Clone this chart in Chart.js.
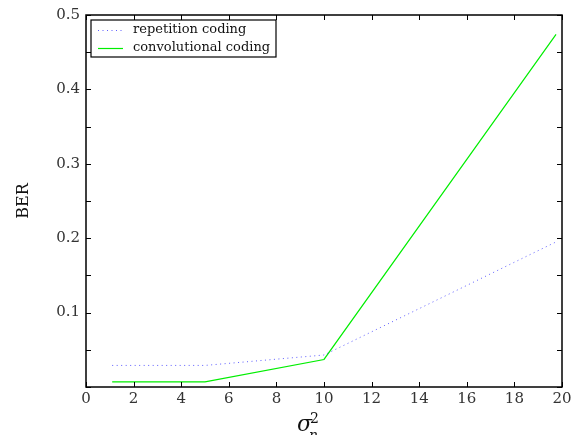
<!DOCTYPE html>
<html>
<head>
<meta charset="utf-8">
<script src="https://cdn.jsdelivr.net/npm/chart.js@4"></script>
<style>
  html, body { margin: 0; padding: 0; background: #fff; }
  #wrap { width: 575px; height: 435px; }
</style>
</head>
<body>
<div id="wrap"><canvas id="berChart" width="575" height="435"></canvas></div>
<script>
const sigma2 = [1.1, 5, 10, 19.75];
const repetitionBER = [0.029, 0.029, 0.043, 0.195];
const convolutionalBER = [0.007, 0.007, 0.037, 0.474];
const seriesLabels = ['repetition coding', 'convolutional coding'];
const seriesColors = ['rgba(40,40,255,0.75)', '#00ee00'];

const serif = '"DejaVu Serif", "Liberation Serif", serif';

function points(ys) {
    return sigma2.map((x, i) => ({ x: x, y: ys[i] }));
}

// box round the plot and MATLAB-style inward ticks
const frame = {
    id: 'frame',
    afterDatasetsDraw(chart) {
        const ctx = chart.ctx, a = chart.chartArea;
        const xs = chart.scales.x, ys = chart.scales.y;
        ctx.save();
        ctx.strokeStyle = '#000';
        ctx.lineWidth = 1;
        ctx.beginPath();
        xs.ticks.forEach(t => {
            const px = Math.round(xs.getPixelForValue(t.value)) + 0.5;
            ctx.moveTo(px, a.bottom); ctx.lineTo(px, a.bottom - 5);
            ctx.moveTo(px, a.top); ctx.lineTo(px, a.top + 5);
        });
        ys.ticks.forEach(t => {
            const py = Math.round(ys.getPixelForValue(t.value)) + 0.5;
            ctx.moveTo(a.left, py); ctx.lineTo(a.left + 5, py);
            ctx.moveTo(a.right, py); ctx.lineTo(a.right - 5, py);
        });
        ctx.stroke();
        ctx.lineWidth = 1.5;
        ctx.strokeRect(a.left, a.top, a.right - a.left, a.bottom - a.top);
        ctx.restore();
    }
};

// legend box in the top-left corner of the plot
const boxLegend = {
    id: 'boxLegend',
    afterDraw(chart) {
        const ctx = chart.ctx, a = chart.chartArea;
        const x0 = a.left + 5, y0 = a.top + 5, w = 185, h = 37;
        ctx.save();
        ctx.fillStyle = '#fff';
        ctx.fillRect(x0, y0, w, h);
        ctx.strokeStyle = '#000';
        ctx.lineWidth = 1.2;
        ctx.strokeRect(x0, y0, w, h);
        ctx.font = '13px ' + serif;
        ctx.textBaseline = 'middle';
        chart.data.datasets.forEach((ds, i) => {
            const y = Math.round(y0 + 10 + i * 18);
            ctx.strokeStyle = seriesColors[i];
            ctx.lineWidth = 1.2;
            ctx.setLineDash(ds.borderDash || []);
            ctx.beginPath();
            ctx.moveTo(x0 + 7, y + 0.5);
            ctx.lineTo(x0 + 32, y + 0.5);
            ctx.stroke();
            ctx.setLineDash([]);
            ctx.fillStyle = '#111';
            ctx.fillText(ds.label, x0 + 42, y);
        });
        ctx.restore();
    }
};

// x axis title: sigma_n^2
const sigmaTitle = {
    id: 'sigmaTitle',
    afterDraw(chart) {
        const ctx = chart.ctx;
        const x = 297, by = 431;
        ctx.save();
        ctx.fillStyle = '#111';
        ctx.textBaseline = 'alphabetic';
        ctx.font = 'italic 22px ' + serif;
        ctx.fillText('σ', x, by);
        ctx.font = '14px ' + serif;
        ctx.fillText('2', x + 13, by - 8);
        ctx.font = 'italic 14px ' + serif;
        ctx.fillText('n', x + 12, by + 9);
        ctx.restore();
    }
};

new Chart(document.getElementById('berChart'), {
    type: 'line',
    data: {
        datasets: [
            {
                label: seriesLabels[0],
                data: points(repetitionBER),
                borderColor: seriesColors[0],
                borderWidth: 1,
                borderDash: [1, 3.5],
                pointRadius: 0,
                tension: 0
            },
            {
                label: seriesLabels[1],
                data: points(convolutionalBER),
                borderColor: seriesColors[1],
                borderWidth: 1.2,
                pointRadius: 0,
                tension: 0
            }
        ]
    },
    options: {
        responsive: false,
        animation: false,
        layout: { padding: { top: 12, right: 13, left: 0, bottom: 0 } },
        plugins: {
            legend: { display: false },
            tooltip: { enabled: false }
        },
        scales: {
            x: {
                type: 'linear',
                min: 0, max: 20,
                grid: { display: false, drawTicks: false, tickLength: 0 },
                border: { display: false },
                ticks: {
                    stepSize: 2,
                    padding: 3,
                    color: '#333',
                    font: { family: serif, size: 15 },
                    maxRotation: 0
                },
                afterFit(s) { s.height = 48; }
            },
            y: {
                min: 0, max: 0.5,
                grid: { display: false, drawTicks: false, tickLength: 0 },
                border: { display: false },
                ticks: {
                    stepSize: 0.05,
                    padding: 6,
                    color: '#333',
                    font: { family: serif, size: 15 },
                    callback(v) {
                        const k = Math.round(v * 20);
                        if (k === 0 || k % 2 !== 0) return '';
                        return (k / 20).toFixed(1);
                    }
                },
                title: {
                    display: true,
                    text: 'BER',
                    color: '#111',
                    font: { family: serif, size: 16 },
                    padding: { top: 14, bottom: 0 }
                },
                afterFit(s) { s.width = 86; }
            }
        }
    },
    plugins: [frame, boxLegend, sigmaTitle]
});
</script>
</body>
</html>
